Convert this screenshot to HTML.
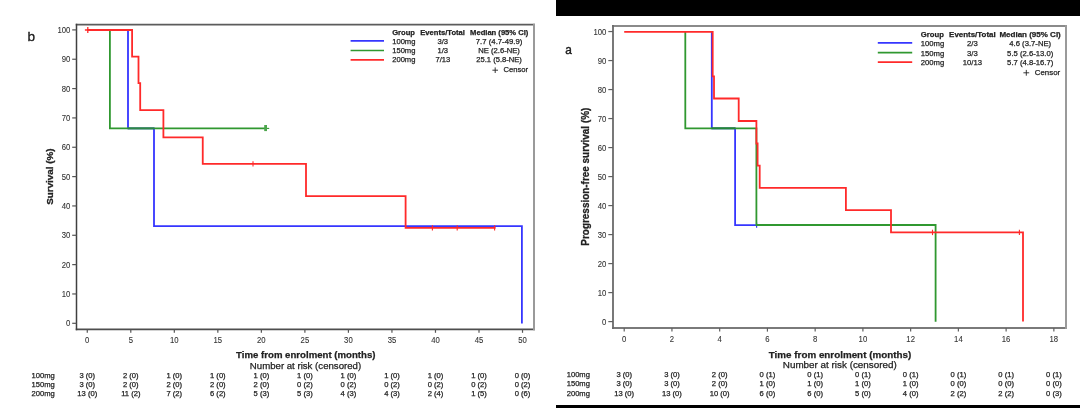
<!DOCTYPE html>
<html><head><meta charset="utf-8"><style>
html,body{margin:0;padding:0;background:#fff;width:1080px;height:408px;overflow:hidden}
svg{display:block;font-family:"Liberation Sans", sans-serif;will-change:transform}
</style></head><body>
<svg width="1080" height="408" viewBox="0 0 1080 408">
<rect x="556" y="0" width="524" height="16" fill="#000"/>
<rect x="556" y="405" width="524" height="3" fill="#000"/>
<line x1="75.75" y1="24.65" x2="535.00" y2="24.65" stroke="#5c5c5c" stroke-width="1.6"/>
<line x1="75.75" y1="329.40" x2="535.00" y2="329.40" stroke="#4e4e4e" stroke-width="1.6"/>
<line x1="534.00" y1="23.85" x2="534.00" y2="330.20" stroke="#9a9a9a" stroke-width="2.0"/>
<line x1="76.50" y1="23.85" x2="76.50" y2="330.20" stroke="#404040" stroke-width="1.5"/>
<line x1="72.2" y1="323.30" x2="76.5" y2="323.30" stroke="#555" stroke-width="1.2"/>
<text x="70.40" y="326.25" font-size="9.0" text-anchor="end" textLength="4.30" lengthAdjust="spacingAndGlyphs" fill="#333" stroke="#333" stroke-width="0.1">0</text>
<line x1="72.2" y1="293.96" x2="76.5" y2="293.96" stroke="#555" stroke-width="1.2"/>
<text x="70.40" y="296.91" font-size="9.0" text-anchor="end" textLength="8.60" lengthAdjust="spacingAndGlyphs" fill="#333" stroke="#333" stroke-width="0.1">10</text>
<line x1="72.2" y1="264.62" x2="76.5" y2="264.62" stroke="#555" stroke-width="1.2"/>
<text x="70.40" y="267.57" font-size="9.0" text-anchor="end" textLength="8.60" lengthAdjust="spacingAndGlyphs" fill="#333" stroke="#333" stroke-width="0.1">20</text>
<line x1="72.2" y1="235.28" x2="76.5" y2="235.28" stroke="#555" stroke-width="1.2"/>
<text x="70.40" y="238.23" font-size="9.0" text-anchor="end" textLength="8.60" lengthAdjust="spacingAndGlyphs" fill="#333" stroke="#333" stroke-width="0.1">30</text>
<line x1="72.2" y1="205.94" x2="76.5" y2="205.94" stroke="#555" stroke-width="1.2"/>
<text x="70.40" y="208.89" font-size="9.0" text-anchor="end" textLength="8.60" lengthAdjust="spacingAndGlyphs" fill="#333" stroke="#333" stroke-width="0.1">40</text>
<line x1="72.2" y1="176.60" x2="76.5" y2="176.60" stroke="#555" stroke-width="1.2"/>
<text x="70.40" y="179.55" font-size="9.0" text-anchor="end" textLength="8.60" lengthAdjust="spacingAndGlyphs" fill="#333" stroke="#333" stroke-width="0.1">50</text>
<line x1="72.2" y1="147.26" x2="76.5" y2="147.26" stroke="#555" stroke-width="1.2"/>
<text x="70.40" y="150.21" font-size="9.0" text-anchor="end" textLength="8.60" lengthAdjust="spacingAndGlyphs" fill="#333" stroke="#333" stroke-width="0.1">60</text>
<line x1="72.2" y1="117.92" x2="76.5" y2="117.92" stroke="#555" stroke-width="1.2"/>
<text x="70.40" y="120.87" font-size="9.0" text-anchor="end" textLength="8.60" lengthAdjust="spacingAndGlyphs" fill="#333" stroke="#333" stroke-width="0.1">70</text>
<line x1="72.2" y1="88.58" x2="76.5" y2="88.58" stroke="#555" stroke-width="1.2"/>
<text x="70.40" y="91.53" font-size="9.0" text-anchor="end" textLength="8.60" lengthAdjust="spacingAndGlyphs" fill="#333" stroke="#333" stroke-width="0.1">80</text>
<line x1="72.2" y1="59.24" x2="76.5" y2="59.24" stroke="#555" stroke-width="1.2"/>
<text x="70.40" y="62.19" font-size="9.0" text-anchor="end" textLength="8.60" lengthAdjust="spacingAndGlyphs" fill="#333" stroke="#333" stroke-width="0.1">90</text>
<line x1="72.2" y1="29.90" x2="76.5" y2="29.90" stroke="#555" stroke-width="1.2"/>
<text x="70.40" y="32.85" font-size="9.0" text-anchor="end" textLength="12.90" lengthAdjust="spacingAndGlyphs" fill="#333" stroke="#333" stroke-width="0.1">100</text>
<line x1="87.27" y1="329.4" x2="87.27" y2="332.8" stroke="#555" stroke-width="1.2"/>
<text x="87.27" y="342.80" font-size="9.0" text-anchor="middle" textLength="4.30" lengthAdjust="spacingAndGlyphs" fill="#333" stroke="#333" stroke-width="0.1">0</text>
<line x1="130.79" y1="329.4" x2="130.79" y2="332.8" stroke="#555" stroke-width="1.2"/>
<text x="130.79" y="342.80" font-size="9.0" text-anchor="middle" textLength="4.30" lengthAdjust="spacingAndGlyphs" fill="#333" stroke="#333" stroke-width="0.1">5</text>
<line x1="174.32" y1="329.4" x2="174.32" y2="332.8" stroke="#555" stroke-width="1.2"/>
<text x="174.32" y="342.80" font-size="9.0" text-anchor="middle" textLength="8.60" lengthAdjust="spacingAndGlyphs" fill="#333" stroke="#333" stroke-width="0.1">10</text>
<line x1="217.84" y1="329.4" x2="217.84" y2="332.8" stroke="#555" stroke-width="1.2"/>
<text x="217.84" y="342.80" font-size="9.0" text-anchor="middle" textLength="8.60" lengthAdjust="spacingAndGlyphs" fill="#333" stroke="#333" stroke-width="0.1">15</text>
<line x1="261.37" y1="329.4" x2="261.37" y2="332.8" stroke="#555" stroke-width="1.2"/>
<text x="261.37" y="342.80" font-size="9.0" text-anchor="middle" textLength="8.60" lengthAdjust="spacingAndGlyphs" fill="#333" stroke="#333" stroke-width="0.1">20</text>
<line x1="304.89" y1="329.4" x2="304.89" y2="332.8" stroke="#555" stroke-width="1.2"/>
<text x="304.89" y="342.80" font-size="9.0" text-anchor="middle" textLength="8.60" lengthAdjust="spacingAndGlyphs" fill="#333" stroke="#333" stroke-width="0.1">25</text>
<line x1="348.42" y1="329.4" x2="348.42" y2="332.8" stroke="#555" stroke-width="1.2"/>
<text x="348.42" y="342.80" font-size="9.0" text-anchor="middle" textLength="8.60" lengthAdjust="spacingAndGlyphs" fill="#333" stroke="#333" stroke-width="0.1">30</text>
<line x1="391.94" y1="329.4" x2="391.94" y2="332.8" stroke="#555" stroke-width="1.2"/>
<text x="391.94" y="342.80" font-size="9.0" text-anchor="middle" textLength="8.60" lengthAdjust="spacingAndGlyphs" fill="#333" stroke="#333" stroke-width="0.1">35</text>
<line x1="435.47" y1="329.4" x2="435.47" y2="332.8" stroke="#555" stroke-width="1.2"/>
<text x="435.47" y="342.80" font-size="9.0" text-anchor="middle" textLength="8.60" lengthAdjust="spacingAndGlyphs" fill="#333" stroke="#333" stroke-width="0.1">40</text>
<line x1="479.00" y1="329.4" x2="479.00" y2="332.8" stroke="#555" stroke-width="1.2"/>
<text x="479.00" y="342.80" font-size="9.0" text-anchor="middle" textLength="8.60" lengthAdjust="spacingAndGlyphs" fill="#333" stroke="#333" stroke-width="0.1">45</text>
<line x1="522.52" y1="329.4" x2="522.52" y2="332.8" stroke="#555" stroke-width="1.2"/>
<text x="522.52" y="342.80" font-size="9.0" text-anchor="middle" textLength="8.60" lengthAdjust="spacingAndGlyphs" fill="#333" stroke="#333" stroke-width="0.1">50</text>
<path d="M128 30 V128.4 H154 V226.05 H521.9 V323.4" fill="none" stroke="#3636ff" stroke-width="1.8" stroke-linejoin="miter" stroke-linecap="butt"/>
<path d="M109.9 30 V128.4 H265.6" fill="none" stroke="#309830" stroke-width="1.8" stroke-linejoin="miter" stroke-linecap="butt"/>
<path d="M265 128.4 H269.2" stroke="#309830" stroke-width="1.1"/>
<path d="M265.6 125 V131.1" stroke="#4da64d" stroke-width="2.8"/>
<path d="M128 128.4 H154" fill="none" stroke="#2d8746" stroke-width="1.8" stroke-linejoin="miter" stroke-linecap="butt"/>
<path d="M87.3 30 H132.1 V56.6 H138.5 V83.1 H140.2 V110.05 H163.4 V137.4 H202.75 V163.9 H306 V196.05 H405.6 V227.9 H495.6" fill="none" stroke="#ff2a2a" stroke-width="1.8" stroke-linejoin="miter" stroke-linecap="butt"/>
<line x1="253" y1="161.20000000000002" x2="253" y2="166.6" stroke="#ff2a2a" stroke-width="1.1"/>
<line x1="432.4" y1="225.20000000000002" x2="432.4" y2="230.6" stroke="#ff2a2a" stroke-width="1.1"/>
<line x1="457.2" y1="225.20000000000002" x2="457.2" y2="230.6" stroke="#ff2a2a" stroke-width="1.1"/>
<line x1="494.6" y1="225.20000000000002" x2="494.6" y2="230.6" stroke="#ff2a2a" stroke-width="1.1"/>
<path d="M84.9 30 H90.7 M87.8 27.1 V33" stroke="#ff2a2a" stroke-width="1.3"/>
<text x="27.60" y="40.70" font-size="13.6" fill="#1a1a1a" stroke="#1a1a1a" stroke-width="0.35">b</text>
<text transform="translate(53,176.6) rotate(-90)" font-size="9.8" font-weight="bold" text-anchor="middle" textLength="56.4" lengthAdjust="spacingAndGlyphs" fill="#222" stroke="#222" stroke-width="0.3">Survival (%)</text>
<text x="305.80" y="358.30" font-size="9.6" text-anchor="middle" font-weight="bold" textLength="139.40" lengthAdjust="spacingAndGlyphs" fill="#222" stroke="#222" stroke-width="0.25">Time from enrolment (months)</text>
<text x="305.50" y="368.80" font-size="9.6" text-anchor="middle" textLength="111.30" lengthAdjust="spacingAndGlyphs" fill="#222" stroke="#222" stroke-width="0.25">Number at risk (censored)</text>
<text x="31.50" y="377.60" font-size="7.6" fill="#222" stroke="#222" stroke-width="0.25">100mg</text>
<text x="87.27" y="377.60" font-size="7.6" text-anchor="middle" fill="#222" stroke="#222" stroke-width="0.25">3 (0)</text>
<text x="130.79" y="377.60" font-size="7.6" text-anchor="middle" fill="#222" stroke="#222" stroke-width="0.25">2 (0)</text>
<text x="174.32" y="377.60" font-size="7.6" text-anchor="middle" fill="#222" stroke="#222" stroke-width="0.25">1 (0)</text>
<text x="217.84" y="377.60" font-size="7.6" text-anchor="middle" fill="#222" stroke="#222" stroke-width="0.25">1 (0)</text>
<text x="261.37" y="377.60" font-size="7.6" text-anchor="middle" fill="#222" stroke="#222" stroke-width="0.25">1 (0)</text>
<text x="304.89" y="377.60" font-size="7.6" text-anchor="middle" fill="#222" stroke="#222" stroke-width="0.25">1 (0)</text>
<text x="348.42" y="377.60" font-size="7.6" text-anchor="middle" fill="#222" stroke="#222" stroke-width="0.25">1 (0)</text>
<text x="391.94" y="377.60" font-size="7.6" text-anchor="middle" fill="#222" stroke="#222" stroke-width="0.25">1 (0)</text>
<text x="435.47" y="377.60" font-size="7.6" text-anchor="middle" fill="#222" stroke="#222" stroke-width="0.25">1 (0)</text>
<text x="479.00" y="377.60" font-size="7.6" text-anchor="middle" fill="#222" stroke="#222" stroke-width="0.25">1 (0)</text>
<text x="522.52" y="377.60" font-size="7.6" text-anchor="middle" fill="#222" stroke="#222" stroke-width="0.25">0 (0)</text>
<text x="31.50" y="386.70" font-size="7.6" fill="#222" stroke="#222" stroke-width="0.25">150mg</text>
<text x="87.27" y="386.70" font-size="7.6" text-anchor="middle" fill="#222" stroke="#222" stroke-width="0.25">3 (0)</text>
<text x="130.79" y="386.70" font-size="7.6" text-anchor="middle" fill="#222" stroke="#222" stroke-width="0.25">2 (0)</text>
<text x="174.32" y="386.70" font-size="7.6" text-anchor="middle" fill="#222" stroke="#222" stroke-width="0.25">2 (0)</text>
<text x="217.84" y="386.70" font-size="7.6" text-anchor="middle" fill="#222" stroke="#222" stroke-width="0.25">2 (0)</text>
<text x="261.37" y="386.70" font-size="7.6" text-anchor="middle" fill="#222" stroke="#222" stroke-width="0.25">2 (0)</text>
<text x="304.89" y="386.70" font-size="7.6" text-anchor="middle" fill="#222" stroke="#222" stroke-width="0.25">0 (2)</text>
<text x="348.42" y="386.70" font-size="7.6" text-anchor="middle" fill="#222" stroke="#222" stroke-width="0.25">0 (2)</text>
<text x="391.94" y="386.70" font-size="7.6" text-anchor="middle" fill="#222" stroke="#222" stroke-width="0.25">0 (2)</text>
<text x="435.47" y="386.70" font-size="7.6" text-anchor="middle" fill="#222" stroke="#222" stroke-width="0.25">0 (2)</text>
<text x="479.00" y="386.70" font-size="7.6" text-anchor="middle" fill="#222" stroke="#222" stroke-width="0.25">0 (2)</text>
<text x="522.52" y="386.70" font-size="7.6" text-anchor="middle" fill="#222" stroke="#222" stroke-width="0.25">0 (2)</text>
<text x="31.50" y="395.50" font-size="7.6" fill="#222" stroke="#222" stroke-width="0.25">200mg</text>
<text x="87.27" y="395.50" font-size="7.6" text-anchor="middle" fill="#222" stroke="#222" stroke-width="0.25">13 (0)</text>
<text x="130.79" y="395.50" font-size="7.6" text-anchor="middle" fill="#222" stroke="#222" stroke-width="0.25">11 (2)</text>
<text x="174.32" y="395.50" font-size="7.6" text-anchor="middle" fill="#222" stroke="#222" stroke-width="0.25">7 (2)</text>
<text x="217.84" y="395.50" font-size="7.6" text-anchor="middle" fill="#222" stroke="#222" stroke-width="0.25">6 (2)</text>
<text x="261.37" y="395.50" font-size="7.6" text-anchor="middle" fill="#222" stroke="#222" stroke-width="0.25">5 (3)</text>
<text x="304.89" y="395.50" font-size="7.6" text-anchor="middle" fill="#222" stroke="#222" stroke-width="0.25">5 (3)</text>
<text x="348.42" y="395.50" font-size="7.6" text-anchor="middle" fill="#222" stroke="#222" stroke-width="0.25">4 (3)</text>
<text x="391.94" y="395.50" font-size="7.6" text-anchor="middle" fill="#222" stroke="#222" stroke-width="0.25">4 (3)</text>
<text x="435.47" y="395.50" font-size="7.6" text-anchor="middle" fill="#222" stroke="#222" stroke-width="0.25">2 (4)</text>
<text x="479.00" y="395.50" font-size="7.6" text-anchor="middle" fill="#222" stroke="#222" stroke-width="0.25">1 (5)</text>
<text x="522.52" y="395.50" font-size="7.6" text-anchor="middle" fill="#222" stroke="#222" stroke-width="0.25">0 (6)</text>
<line x1="350.6" y1="40.9" x2="384" y2="40.9" stroke="#3636ff" stroke-width="1.7"/>
<line x1="350.6" y1="50.5" x2="384" y2="50.5" stroke="#309830" stroke-width="1.7"/>
<line x1="350.6" y1="59.8" x2="384" y2="59.8" stroke="#ff2a2a" stroke-width="1.7"/>
<text x="392.20" y="35.10" font-size="7.6" font-weight="bold" fill="#222" stroke="#222" stroke-width="0.25">Group</text>
<text x="442.60" y="35.10" font-size="7.6" text-anchor="middle" font-weight="bold" fill="#222" stroke="#222" stroke-width="0.25">Events/Total</text>
<text x="499.20" y="35.10" font-size="7.6" text-anchor="middle" font-weight="bold" fill="#222" stroke="#222" stroke-width="0.25">Median (95% CI)</text>
<text x="392.20" y="44.10" font-size="7.6" fill="#222" stroke="#222" stroke-width="0.25">100mg</text>
<text x="442.80" y="44.10" font-size="7.6" text-anchor="middle" fill="#222" stroke="#222" stroke-width="0.25">3/3</text>
<text x="499.10" y="44.10" font-size="7.6" text-anchor="middle" textLength="46.60" lengthAdjust="spacingAndGlyphs" fill="#222" stroke="#222" stroke-width="0.25">7.7 (4.7-49.9)</text>
<text x="392.20" y="53.00" font-size="7.6" fill="#222" stroke="#222" stroke-width="0.25">150mg</text>
<text x="442.80" y="53.00" font-size="7.6" text-anchor="middle" fill="#222" stroke="#222" stroke-width="0.25">1/3</text>
<text x="499.10" y="53.00" font-size="7.6" text-anchor="middle" textLength="41.60" lengthAdjust="spacingAndGlyphs" fill="#222" stroke="#222" stroke-width="0.25">NE (2.6-NE)</text>
<text x="392.20" y="62.30" font-size="7.6" fill="#222" stroke="#222" stroke-width="0.25">200mg</text>
<text x="442.80" y="62.30" font-size="7.6" text-anchor="middle" fill="#222" stroke="#222" stroke-width="0.25">7/13</text>
<text x="499.10" y="62.30" font-size="7.6" text-anchor="middle" textLength="45.60" lengthAdjust="spacingAndGlyphs" fill="#222" stroke="#222" stroke-width="0.25">25.1 (5.8-NE)</text>
<text x="528.00" y="72.30" font-size="7.6" text-anchor="end" textLength="24.60" lengthAdjust="spacingAndGlyphs" fill="#222" stroke="#222" stroke-width="0.25">Censor</text>
<path d="M492.4 70.2 H498 M495.2 67.4 V73" stroke="#222" stroke-width="0.9"/>
<line x1="612.10" y1="26.00" x2="1067.00" y2="26.00" stroke="#8a8a8a" stroke-width="2.0"/>
<line x1="612.10" y1="327.90" x2="1067.00" y2="327.90" stroke="#7a7a7a" stroke-width="2.0"/>
<line x1="1066.00" y1="25.00" x2="1066.00" y2="328.90" stroke="#9a9a9a" stroke-width="2.0"/>
<line x1="613.00" y1="25.00" x2="613.00" y2="328.90" stroke="#6a6a6a" stroke-width="1.8"/>
<line x1="608.3" y1="321.60" x2="613" y2="321.60" stroke="#606060" stroke-width="1.2"/>
<text x="606.30" y="324.55" font-size="9.0" text-anchor="end" textLength="4.30" lengthAdjust="spacingAndGlyphs" fill="#333" stroke="#333" stroke-width="0.1">0</text>
<line x1="608.3" y1="292.60" x2="613" y2="292.60" stroke="#606060" stroke-width="1.2"/>
<text x="606.30" y="295.55" font-size="9.0" text-anchor="end" textLength="8.60" lengthAdjust="spacingAndGlyphs" fill="#333" stroke="#333" stroke-width="0.1">10</text>
<line x1="608.3" y1="263.59" x2="613" y2="263.59" stroke="#606060" stroke-width="1.2"/>
<text x="606.30" y="266.54" font-size="9.0" text-anchor="end" textLength="8.60" lengthAdjust="spacingAndGlyphs" fill="#333" stroke="#333" stroke-width="0.1">20</text>
<line x1="608.3" y1="234.59" x2="613" y2="234.59" stroke="#606060" stroke-width="1.2"/>
<text x="606.30" y="237.53" font-size="9.0" text-anchor="end" textLength="8.60" lengthAdjust="spacingAndGlyphs" fill="#333" stroke="#333" stroke-width="0.1">30</text>
<line x1="608.3" y1="205.58" x2="613" y2="205.58" stroke="#606060" stroke-width="1.2"/>
<text x="606.30" y="208.53" font-size="9.0" text-anchor="end" textLength="8.60" lengthAdjust="spacingAndGlyphs" fill="#333" stroke="#333" stroke-width="0.1">40</text>
<line x1="608.3" y1="176.58" x2="613" y2="176.58" stroke="#606060" stroke-width="1.2"/>
<text x="606.30" y="179.53" font-size="9.0" text-anchor="end" textLength="8.60" lengthAdjust="spacingAndGlyphs" fill="#333" stroke="#333" stroke-width="0.1">50</text>
<line x1="608.3" y1="147.57" x2="613" y2="147.57" stroke="#606060" stroke-width="1.2"/>
<text x="606.30" y="150.52" font-size="9.0" text-anchor="end" textLength="8.60" lengthAdjust="spacingAndGlyphs" fill="#333" stroke="#333" stroke-width="0.1">60</text>
<line x1="608.3" y1="118.56" x2="613" y2="118.56" stroke="#606060" stroke-width="1.2"/>
<text x="606.30" y="121.52" font-size="9.0" text-anchor="end" textLength="8.60" lengthAdjust="spacingAndGlyphs" fill="#333" stroke="#333" stroke-width="0.1">70</text>
<line x1="608.3" y1="89.56" x2="613" y2="89.56" stroke="#606060" stroke-width="1.2"/>
<text x="606.30" y="92.51" font-size="9.0" text-anchor="end" textLength="8.60" lengthAdjust="spacingAndGlyphs" fill="#333" stroke="#333" stroke-width="0.1">80</text>
<line x1="608.3" y1="60.56" x2="613" y2="60.56" stroke="#606060" stroke-width="1.2"/>
<text x="606.30" y="63.51" font-size="9.0" text-anchor="end" textLength="8.60" lengthAdjust="spacingAndGlyphs" fill="#333" stroke="#333" stroke-width="0.1">90</text>
<line x1="608.3" y1="31.55" x2="613" y2="31.55" stroke="#606060" stroke-width="1.2"/>
<text x="606.30" y="34.50" font-size="9.0" text-anchor="end" textLength="12.90" lengthAdjust="spacingAndGlyphs" fill="#333" stroke="#333" stroke-width="0.1">100</text>
<line x1="624.20" y1="327.9" x2="624.20" y2="331.6" stroke="#606060" stroke-width="1.2"/>
<text x="624.20" y="341.70" font-size="9.0" text-anchor="middle" textLength="4.30" lengthAdjust="spacingAndGlyphs" fill="#333" stroke="#333" stroke-width="0.1">0</text>
<line x1="671.94" y1="327.9" x2="671.94" y2="331.6" stroke="#606060" stroke-width="1.2"/>
<text x="671.94" y="341.70" font-size="9.0" text-anchor="middle" textLength="4.30" lengthAdjust="spacingAndGlyphs" fill="#333" stroke="#333" stroke-width="0.1">2</text>
<line x1="719.68" y1="327.9" x2="719.68" y2="331.6" stroke="#606060" stroke-width="1.2"/>
<text x="719.68" y="341.70" font-size="9.0" text-anchor="middle" textLength="4.30" lengthAdjust="spacingAndGlyphs" fill="#333" stroke="#333" stroke-width="0.1">4</text>
<line x1="767.42" y1="327.9" x2="767.42" y2="331.6" stroke="#606060" stroke-width="1.2"/>
<text x="767.42" y="341.70" font-size="9.0" text-anchor="middle" textLength="4.30" lengthAdjust="spacingAndGlyphs" fill="#333" stroke="#333" stroke-width="0.1">6</text>
<line x1="815.16" y1="327.9" x2="815.16" y2="331.6" stroke="#606060" stroke-width="1.2"/>
<text x="815.16" y="341.70" font-size="9.0" text-anchor="middle" textLength="4.30" lengthAdjust="spacingAndGlyphs" fill="#333" stroke="#333" stroke-width="0.1">8</text>
<line x1="862.90" y1="327.9" x2="862.90" y2="331.6" stroke="#606060" stroke-width="1.2"/>
<text x="862.90" y="341.70" font-size="9.0" text-anchor="middle" textLength="8.60" lengthAdjust="spacingAndGlyphs" fill="#333" stroke="#333" stroke-width="0.1">10</text>
<line x1="910.64" y1="327.9" x2="910.64" y2="331.6" stroke="#606060" stroke-width="1.2"/>
<text x="910.64" y="341.70" font-size="9.0" text-anchor="middle" textLength="8.60" lengthAdjust="spacingAndGlyphs" fill="#333" stroke="#333" stroke-width="0.1">12</text>
<line x1="958.38" y1="327.9" x2="958.38" y2="331.6" stroke="#606060" stroke-width="1.2"/>
<text x="958.38" y="341.70" font-size="9.0" text-anchor="middle" textLength="8.60" lengthAdjust="spacingAndGlyphs" fill="#333" stroke="#333" stroke-width="0.1">14</text>
<line x1="1006.12" y1="327.9" x2="1006.12" y2="331.6" stroke="#606060" stroke-width="1.2"/>
<text x="1006.12" y="341.70" font-size="9.0" text-anchor="middle" textLength="8.60" lengthAdjust="spacingAndGlyphs" fill="#333" stroke="#333" stroke-width="0.1">16</text>
<line x1="1053.86" y1="327.9" x2="1053.86" y2="331.6" stroke="#606060" stroke-width="1.2"/>
<text x="1053.86" y="341.70" font-size="9.0" text-anchor="middle" textLength="8.60" lengthAdjust="spacingAndGlyphs" fill="#333" stroke="#333" stroke-width="0.1">18</text>
<path d="M711.8 31.8 V128.3 H735.1 V225.05 H756.4" fill="none" stroke="#3636ff" stroke-width="1.8" stroke-linejoin="miter" stroke-linecap="butt"/>
<path d="M756.6 222.4 V227.8" stroke="#3636ff" stroke-width="1.2"/>
<path d="M685.3 31.8 V128.3 H756.4 V225 H935.6 V321.7" fill="none" stroke="#309830" stroke-width="1.8" stroke-linejoin="miter" stroke-linecap="butt"/>
<path d="M711.8 128.3 H735.1" fill="none" stroke="#238737" stroke-width="1.8" stroke-linejoin="miter" stroke-linecap="butt"/>
<path d="M624.2 31.8 H712.7 V76.3 H714 V98.5 H738.7 V121 H756.4 V143.5 H757.6 V165.7 H759.7 V187.9 H845.9 V210.2 H891.0 V232.4 H1023.0 V321.5" fill="none" stroke="#ff2a2a" stroke-width="1.8" stroke-linejoin="miter" stroke-linecap="butt"/>
<line x1="932.5" y1="229.70000000000002" x2="932.5" y2="235.1" stroke="#ff2a2a" stroke-width="1.1"/>
<line x1="1019.4" y1="229.70000000000002" x2="1019.4" y2="235.1" stroke="#ff2a2a" stroke-width="1.1"/>
<text x="565.20" y="53.50" font-size="13.4" textLength="6.60" lengthAdjust="spacingAndGlyphs" fill="#1a1a1a" stroke="#1a1a1a" stroke-width="0.4">a</text>
<text transform="translate(589,176.65) rotate(-90)" font-size="10.7" font-weight="bold" text-anchor="middle" textLength="138" lengthAdjust="spacingAndGlyphs" fill="#222" stroke="#222" stroke-width="0.3">Progression-free survival (%)</text>
<text x="840" y="357.70" font-size="9.6" text-anchor="middle" font-weight="bold" textLength="142.40" lengthAdjust="spacingAndGlyphs" fill="#222" stroke="#222" stroke-width="0.25">Time from enrolment (months)</text>
<text x="839.80" y="368.20" font-size="9.6" text-anchor="middle" textLength="114.00" lengthAdjust="spacingAndGlyphs" fill="#222" stroke="#222" stroke-width="0.25">Number at risk (censored)</text>
<text x="566.70" y="377.20" font-size="7.6" fill="#222" stroke="#222" stroke-width="0.25">100mg</text>
<text x="624.20" y="377.20" font-size="7.6" text-anchor="middle" fill="#222" stroke="#222" stroke-width="0.25">3 (0)</text>
<text x="671.94" y="377.20" font-size="7.6" text-anchor="middle" fill="#222" stroke="#222" stroke-width="0.25">3 (0)</text>
<text x="719.68" y="377.20" font-size="7.6" text-anchor="middle" fill="#222" stroke="#222" stroke-width="0.25">2 (0)</text>
<text x="767.42" y="377.20" font-size="7.6" text-anchor="middle" fill="#222" stroke="#222" stroke-width="0.25">0 (1)</text>
<text x="815.16" y="377.20" font-size="7.6" text-anchor="middle" fill="#222" stroke="#222" stroke-width="0.25">0 (1)</text>
<text x="862.90" y="377.20" font-size="7.6" text-anchor="middle" fill="#222" stroke="#222" stroke-width="0.25">0 (1)</text>
<text x="910.64" y="377.20" font-size="7.6" text-anchor="middle" fill="#222" stroke="#222" stroke-width="0.25">0 (1)</text>
<text x="958.38" y="377.20" font-size="7.6" text-anchor="middle" fill="#222" stroke="#222" stroke-width="0.25">0 (1)</text>
<text x="1006.12" y="377.20" font-size="7.6" text-anchor="middle" fill="#222" stroke="#222" stroke-width="0.25">0 (1)</text>
<text x="1053.86" y="377.20" font-size="7.6" text-anchor="middle" fill="#222" stroke="#222" stroke-width="0.25">0 (1)</text>
<text x="566.70" y="386.40" font-size="7.6" fill="#222" stroke="#222" stroke-width="0.25">150mg</text>
<text x="624.20" y="386.40" font-size="7.6" text-anchor="middle" fill="#222" stroke="#222" stroke-width="0.25">3 (0)</text>
<text x="671.94" y="386.40" font-size="7.6" text-anchor="middle" fill="#222" stroke="#222" stroke-width="0.25">3 (0)</text>
<text x="719.68" y="386.40" font-size="7.6" text-anchor="middle" fill="#222" stroke="#222" stroke-width="0.25">2 (0)</text>
<text x="767.42" y="386.40" font-size="7.6" text-anchor="middle" fill="#222" stroke="#222" stroke-width="0.25">1 (0)</text>
<text x="815.16" y="386.40" font-size="7.6" text-anchor="middle" fill="#222" stroke="#222" stroke-width="0.25">1 (0)</text>
<text x="862.90" y="386.40" font-size="7.6" text-anchor="middle" fill="#222" stroke="#222" stroke-width="0.25">1 (0)</text>
<text x="910.64" y="386.40" font-size="7.6" text-anchor="middle" fill="#222" stroke="#222" stroke-width="0.25">1 (0)</text>
<text x="958.38" y="386.40" font-size="7.6" text-anchor="middle" fill="#222" stroke="#222" stroke-width="0.25">0 (0)</text>
<text x="1006.12" y="386.40" font-size="7.6" text-anchor="middle" fill="#222" stroke="#222" stroke-width="0.25">0 (0)</text>
<text x="1053.86" y="386.40" font-size="7.6" text-anchor="middle" fill="#222" stroke="#222" stroke-width="0.25">0 (0)</text>
<text x="566.70" y="395.50" font-size="7.6" fill="#222" stroke="#222" stroke-width="0.25">200mg</text>
<text x="624.20" y="395.50" font-size="7.6" text-anchor="middle" fill="#222" stroke="#222" stroke-width="0.25">13 (0)</text>
<text x="671.94" y="395.50" font-size="7.6" text-anchor="middle" fill="#222" stroke="#222" stroke-width="0.25">13 (0)</text>
<text x="719.68" y="395.50" font-size="7.6" text-anchor="middle" fill="#222" stroke="#222" stroke-width="0.25">10 (0)</text>
<text x="767.42" y="395.50" font-size="7.6" text-anchor="middle" fill="#222" stroke="#222" stroke-width="0.25">6 (0)</text>
<text x="815.16" y="395.50" font-size="7.6" text-anchor="middle" fill="#222" stroke="#222" stroke-width="0.25">6 (0)</text>
<text x="862.90" y="395.50" font-size="7.6" text-anchor="middle" fill="#222" stroke="#222" stroke-width="0.25">5 (0)</text>
<text x="910.64" y="395.50" font-size="7.6" text-anchor="middle" fill="#222" stroke="#222" stroke-width="0.25">4 (0)</text>
<text x="958.38" y="395.50" font-size="7.6" text-anchor="middle" fill="#222" stroke="#222" stroke-width="0.25">2 (2)</text>
<text x="1006.12" y="395.50" font-size="7.6" text-anchor="middle" fill="#222" stroke="#222" stroke-width="0.25">2 (2)</text>
<text x="1053.86" y="395.50" font-size="7.6" text-anchor="middle" fill="#222" stroke="#222" stroke-width="0.25">0 (3)</text>
<line x1="877.8" y1="42.9" x2="912.2" y2="42.9" stroke="#3636ff" stroke-width="1.7"/>
<line x1="877.8" y1="52.6" x2="912.2" y2="52.6" stroke="#309830" stroke-width="1.7"/>
<line x1="877.8" y1="62.2" x2="912.2" y2="62.2" stroke="#ff2a2a" stroke-width="1.7"/>
<text x="920.80" y="37.10" font-size="7.7" font-weight="bold" fill="#222" stroke="#222" stroke-width="0.25">Group</text>
<text x="972.40" y="37.10" font-size="7.7" text-anchor="middle" font-weight="bold" textLength="46.60" lengthAdjust="spacingAndGlyphs" fill="#222" stroke="#222" stroke-width="0.25">Events/Total</text>
<text x="1030.10" y="37.10" font-size="7.7" text-anchor="middle" font-weight="bold" textLength="61.40" lengthAdjust="spacingAndGlyphs" fill="#222" stroke="#222" stroke-width="0.25">Median (95% CI)</text>
<text x="920.80" y="46.40" font-size="7.7" fill="#222" stroke="#222" stroke-width="0.25">100mg</text>
<text x="972.40" y="46.40" font-size="7.7" text-anchor="middle" fill="#222" stroke="#222" stroke-width="0.25">2/3</text>
<text x="1030.20" y="46.40" font-size="7.7" text-anchor="middle" fill="#222" stroke="#222" stroke-width="0.25">4.6 (3.7-NE)</text>
<text x="920.80" y="55.60" font-size="7.7" fill="#222" stroke="#222" stroke-width="0.25">150mg</text>
<text x="972.40" y="55.60" font-size="7.7" text-anchor="middle" fill="#222" stroke="#222" stroke-width="0.25">3/3</text>
<text x="1030.20" y="55.60" font-size="7.7" text-anchor="middle" fill="#222" stroke="#222" stroke-width="0.25">5.5 (2.6-13.0)</text>
<text x="920.80" y="65.00" font-size="7.7" fill="#222" stroke="#222" stroke-width="0.25">200mg</text>
<text x="972.40" y="65.00" font-size="7.7" text-anchor="middle" fill="#222" stroke="#222" stroke-width="0.25">10/13</text>
<text x="1030.20" y="65.00" font-size="7.7" text-anchor="middle" fill="#222" stroke="#222" stroke-width="0.25">5.7 (4.8-16.7)</text>
<text x="1060.20" y="75.20" font-size="7.7" text-anchor="end" textLength="25.40" lengthAdjust="spacingAndGlyphs" fill="#222" stroke="#222" stroke-width="0.25">Censor</text>
<path d="M1023.4 72.8 H1029.2 M1026.3 69.9 V75.7" stroke="#222" stroke-width="0.9"/>
</svg>
</body></html>
